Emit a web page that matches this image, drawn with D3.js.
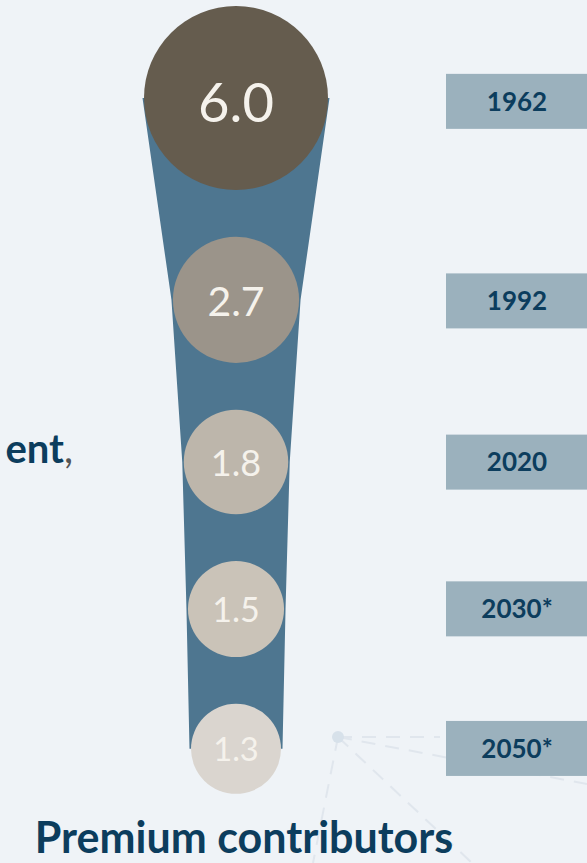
<!DOCTYPE html>
<html>
<head>
<meta charset="utf-8">
<script src="https://cdn.jsdelivr.net/npm/d3@7/dist/d3.min.js"></script>
<style>
  html, body { margin: 0; padding: 0; background: #eff3f7; }
  svg { display: block; }
</style>
</head>
<body>
<svg id="chart" width="587" height="863"></svg>
<script>
// ---- data ----
const years = ["1962", "1992", "2020", "2030*", "2050*"];
const ratios = [6.0, 2.7, 1.8, 1.5, 1.3];
const ratioLabels = ["6.0", "2.7", "1.8", "1.5", "1.3"];
const title = "Premium contributors";
const sideText = ["ent", ","];

// ---- styles ----
const W = 587, H = 863;
const bg = "#eff3f7";
const funnelColor = "#4e7690";
const circleFill = d3.scaleOrdinal().domain(years)
  .range(["#655c4e", "#9b948a", "#bdb6ab", "#cac3b8", "#dad5cf"]);
const navy = "#0c3d5d";
const boxFill = "#9bb1bd";

const svg = d3.select("#chart");
svg.append("rect").attr("width", W).attr("height", H).attr("fill", bg);

// ---- scales / layout ----
const cx = 236;
const topY = 98;
const gap = 46.8;
const rScale = d3.scaleSqrt().domain([d3.min(ratios), d3.max(ratios)]).range([45, 92]);

const nodes = [];
let y = topY;
years.forEach((yr, i) => {
  const r = rScale(ratios[i]);
  if (i > 0) y += nodes[i - 1].r + gap + r;
  nodes.push({ year: yr, value: ratios[i], label: ratioLabels[i], r: r, cy: y });
});
const fontFor = d => 12 + 0.46 * d.r;

// ---- decorative network lines ----
const deco = svg.append("g");
const hub = { x: 338, y: 737 };
const spokes = [[440, 737], [587, 784], [472, 863], [313, 863]];
deco.selectAll("line").data(spokes).join("line")
  .attr("x1", hub.x).attr("y1", hub.y)
  .attr("x2", d => d[0]).attr("y2", d => d[1])
  .attr("stroke", "#e0e6ed").attr("stroke-width", 2)
  .attr("stroke-dasharray", "14,10");
deco.append("circle").attr("cx", hub.x).attr("cy", hub.y).attr("r", 6).attr("fill", "#d7e1ea");

// ---- funnel ----
const area = d3.area()
  .y(d => d.cy)
  .x0(d => cx - d.r - 1.5)
  .x1(d => cx + d.r + 1.5)
  .curve(d3.curveLinear);
svg.append("path").datum(nodes).attr("d", area).attr("fill", funnelColor);

// ---- circles ----
const g = svg.append("g");
g.selectAll("circle").data(nodes).join("circle")
  .attr("cx", cx).attr("cy", d => d.cy).attr("r", d => d.r)
  .attr("fill", d => circleFill(d.year));

g.selectAll("text").data(nodes).join("text")
  .attr("x", cx)
  .attr("y", d => d.cy + 0.36 * fontFor(d) + (d.r - 45) * 0.1)
  .attr("text-anchor", "middle")
  .attr("font-family", "Lato, 'Open Sans', sans-serif")
  .attr("font-weight", 400)
  .attr("font-size", d => fontFor(d) + "px")
  .attr("fill", "#f5f2ec")
  .text(d => d.label);

// ---- year boxes ----
const boxX = 446, boxW = 142, boxH = 55;
const boxes = svg.append("g");
boxes.selectAll("rect").data(nodes).join("rect")
  .attr("x", boxX).attr("y", d => d.cy - boxH / 2 + (d.r - 50) * 0.08)
  .attr("width", boxW).attr("height", boxH)
  .attr("fill", boxFill);
boxes.selectAll("text").data(nodes).join("text")
  .attr("x", boxX + boxW / 2)
  .attr("y", d => d.cy + 9.3 + (d.r - 50) * 0.08)
  .attr("text-anchor", "middle")
  .attr("font-family", "Lato, 'Open Sans', sans-serif")
  .attr("font-weight", 700)
  .attr("font-size", "26px")
  .attr("fill", navy)
  .text(d => d.year);

// ---- side text (cut off) ----
const side = svg.append("text")
  .attr("x", 73).attr("y", nodes[2].cy + 1)
  .attr("text-anchor", "end")
  .attr("font-family", "Lato, 'Open Sans', sans-serif")
  .attr("font-size", "40px");
side.append("tspan").attr("font-weight", 700).attr("fill", navy).text(sideText[0]);
side.append("tspan").attr("font-weight", 400).attr("fill", "#555").text(sideText[1]);

// ---- title ----
svg.append("text")
  .attr("x", cx + 8).attr("y", 853)
  .attr("text-anchor", "middle")
  .attr("font-family", "Lato, 'Open Sans', sans-serif")
  .attr("font-weight", 700)
  .attr("font-size", "43px")
  .attr("fill", navy)
  .text(title);
</script>
</body>
</html>
